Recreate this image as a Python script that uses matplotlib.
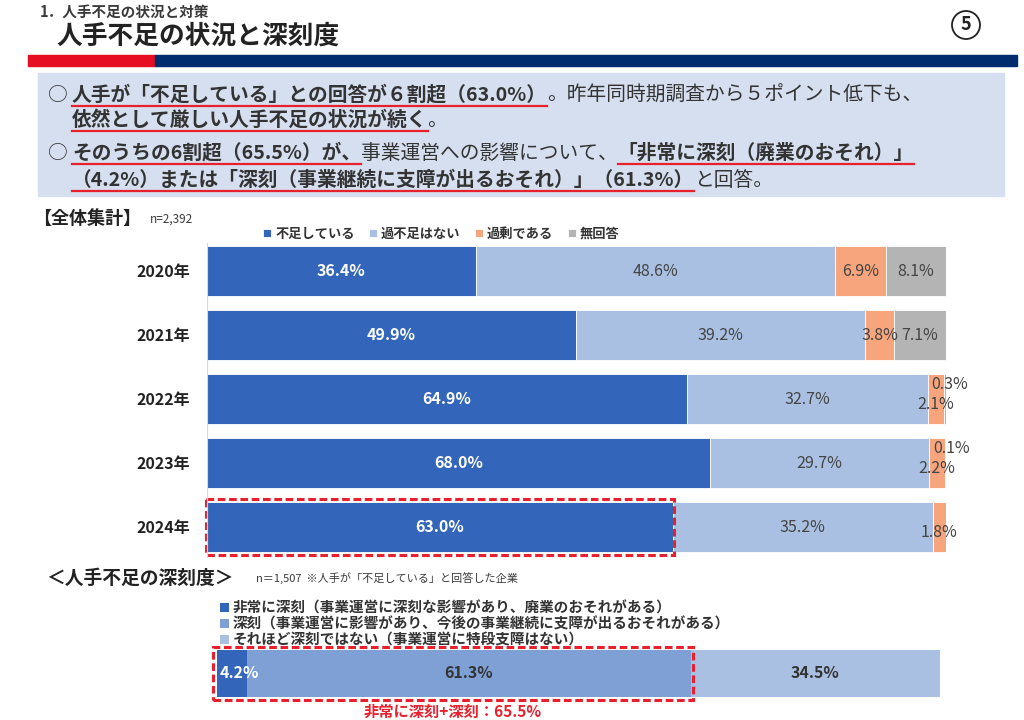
import matplotlib
matplotlib.use("Agg")
import matplotlib.pyplot as plt
import numpy as np
from matplotlib.patches import Rectangle, Circle
from matplotlib.lines import Line2D

plt.rcParams['font.family'] = ['Noto Sans CJK JP', 'DejaVu Sans']

# data
years = ['2020年', '2021年', '2022年', '2023年', '2024年']
cats = ['不足している', '過不足はない', '過剰である', '無回答']
shortage = [36.4, 49.9, 64.9, 68.0, 63.0]
no_gap = [48.6, 39.2, 32.7, 29.7, 35.2]
surplus = [6.9, 3.8, 2.1, 2.2, 1.8]
no_answer = [8.1, 7.1, 0.3, 0.1, 0.0]
colors = ['#3366BB', '#A9C0E2', '#F6A57C', '#B4B4B4']

sev_cats = ['非常に深刻（事業運営に深刻な影響があり、廃業のおそれがある）',
            '深刻（事業運営に影響があり、今後の事業継続に支障が出るおそれがある）',
            'それほど深刻ではない（事業運営に特段支障はない）']
sev_vals = [4.2, 61.3, 34.5]
sev_colors = ['#3366BB', '#7FA0D4', '#A9C0E2']

W, H = 1024, 720
TXT = '#3A3A3A'
RED = '#E8202E'

fig = plt.figure(figsize=(W / 100, H / 100), dpi=100)


def fx(x):
    return x / W


def fy(y):
    return 1 - y / H


def px_axes(l, t, r, b):
    return fig.add_axes([fx(l), fy(b), (r - l) / W, (b - t) / H])


# header
fig.text(fx(40), fy(12), '1．人手不足の状況と対策', fontsize=10.5, fontweight='bold',
         color=TXT, va='center')
fig.text(fx(56), fy(36), '人手不足の状況と深刻度', fontsize=18.5, fontweight='bold',
         color='#222222', va='center')
fig.patches.append(Rectangle((fx(28), fy(66)), fx(155) - fx(28), 11 / H,
                             transform=fig.transFigure, color='#E60E22'))
fig.patches.append(Rectangle((fx(155), fy(66)), fx(1017) - fx(155), 11 / H,
                             transform=fig.transFigure, color='#002D6E'))
circ = Circle((966 / 100, (H - 25) / 100), 0.14, transform=fig.dpi_scale_trans,
              facecolor='white', edgecolor='#222222', lw=1.3)
fig.patches.append(circ)
fig.text(fx(966), fy(25), '5', fontsize=13, fontweight='bold', ha='center',
         va='center', color='#222222')

# summary box
fig.patches.append(Rectangle((fx(38), fy(196)), fx(1004) - fx(38), 123 / H,
                             transform=fig.transFigure, color='#D6DFEF'))

renderer = fig.canvas.get_renderer()


def draw_runs(x, y, runs, size=14.2):
    for text, bold, under in runs:
        t = fig.text(fx(x), fy(y), text, fontsize=size,
                     fontweight='bold' if bold else 'normal',
                     color='#333333', va='baseline')
        bb = t.get_window_extent(renderer)
        w = bb.width
        if under:
            fig.lines.append(Line2D([fx(x), fx(x + w)], [fy(y + 5), fy(y + 5)],
                                    transform=fig.transFigure, color=RED, lw=1.6))
        x += w


fig.text(fx(48), fy(101), '○', fontsize=14.2, color='#333333', va='baseline')
draw_runs(72, 101, [('人手が「不足している」との回答が６割超（63.0%）', True, True),
                    ('。昨年同時期調査から５ポイント低下も、', False, False)])
draw_runs(72, 126, [('依然として厳しい人手不足の状況が続く', True, True),
                    ('。', False, False)])
fig.text(fx(48), fy(159), '○', fontsize=14.2, color='#333333', va='baseline')
draw_runs(72, 159, [('そのうちの6割超（65.5%）が、', True, True),
                    ('事業運営への影響について、', False, False),
                    ('「非常に深刻（廃業のおそれ）」', True, True)])
draw_runs(72, 186, [('（4.2%）または「深刻（事業継続に支障が出るおそれ）」（61.3%）', True, True),
                    ('と回答。', False, False)])

# main chart
fig.text(fx(33), fy(218), '【全体集計】', fontsize=13, fontweight='bold',
         color='#222222', va='center')
fig.text(fx(150), fy(219), 'n=2,392', fontsize=8.5, color=TXT, va='center')

ax = px_axes(207, 243, 946, 557)
series = [shortage, no_gap, surplus, no_answer]
y = np.arange(len(years))
left = np.zeros(len(years))
bar_h = 0.77
for i, vals in enumerate(series):
    vals = np.array(vals)
    ax.barh(y, vals, left=left, height=bar_h, color=colors[i], label=cats[i],
            edgecolor='white', linewidth=0.6)
    for j, v in enumerate(vals):
        if v <= 0:
            continue
        cx = left[j] + v / 2
        cy = y[j]
        col = 'white' if i == 0 else '#444444'
        fw = 'bold' if i == 0 else 'normal'
        if i == 3 and v < 1:
            cy = y[j] - 0.22
            cx = left[j] + 0.8
        elif i == 2 and no_answer[j] < 1:
            cy = y[j] + 0.08
        ax.text(cx, cy, f'{v:.1f}%', ha='center', va='center', fontsize=11.5,
                color=col, fontweight=fw, clip_on=False)
    left += vals

ax.set_xlim(0, 100)
ax.set_ylim(4 + 30 / 64, -28 / 64)
ax.set_yticks(y)
ax.set_yticklabels(years, fontsize=11.5, fontweight='bold', color='#222222')
ax.tick_params(axis='y', length=0, pad=12)
ax.set_xticks([])
for s in ['top', 'right', 'bottom']:
    ax.spines[s].set_visible(False)
ax.spines['left'].set_color('#D9D9D9')
ax.patch.set_alpha(0)

ax.add_patch(Rectangle((-0.2, 4 - 0.43), shortage[4] + 0.4, 0.86, fill=False,
                       edgecolor=RED, lw=2.2, ls=(0, (2.5, 1.2)), clip_on=False))

ax.legend(loc='lower left', bbox_to_anchor=(fx(258), fy(246)),
          bbox_transform=fig.transFigure, ncol=4, frameon=False,
          handlelength=0.6, handleheight=0.6, handletextpad=0.3,
          columnspacing=1.1, prop={'size': 9.5, 'weight': 'bold'},
          labelcolor='#333333', borderaxespad=0)

# severity section
fig.text(fx(46), fy(578), '＜人手不足の深刻度＞', fontsize=13.5, fontweight='bold',
         color='#222222', va='center')
fig.text(fx(256), fy(578), 'n＝1,507  ※人手が「不足している」と回答した企業',
         fontsize=8, color=TXT, va='center')

ax2 = px_axes(217, 645, 940, 702)
left2 = 0.0
for k, v in enumerate(sev_vals):
    ax2.barh([0], [v], left=left2, height=0.84, color=sev_colors[k],
             label=sev_cats[k])
    if k == 0:
        ax2.text(left2 + 0.3, 0, f'{v:.1f}%', ha='left', va='center',
                 fontsize=11.5, color='white', fontweight='bold', clip_on=False)
    else:
        ax2.text(left2 + v / 2, 0, f'{v:.1f}%', ha='center', va='center',
                 fontsize=11.5, color='#333333', fontweight='bold')
    left2 += v
ax2.set_xlim(0, 100)
ax2.set_ylim(-0.5, 0.5)
ax2.axis('off')
tot = sev_vals[0] + sev_vals[1]
ax2.add_patch(Rectangle((-0.5, -0.47), tot + 0.8, 0.94, fill=False,
                        edgecolor=RED, lw=2.2, ls=(0, (2.5, 1.2)), clip_on=False))
ax2.legend(loc='upper left', bbox_to_anchor=(fx(214), fy(594)),
           bbox_transform=fig.transFigure, ncol=1, frameon=False,
           handlelength=0.6, handleheight=0.6, handletextpad=0.3,
           labelspacing=0.0, prop={'size': 10.5, 'weight': 'bold'},
           labelcolor='#333333', borderaxespad=0)
fig.text(fx(453), fy(712), f'非常に深刻+深刻：{tot:.1f}%', fontsize=11,
         fontweight='bold', color=RED, ha='center', va='center')

fig.savefig('out.png', dpi=100)
